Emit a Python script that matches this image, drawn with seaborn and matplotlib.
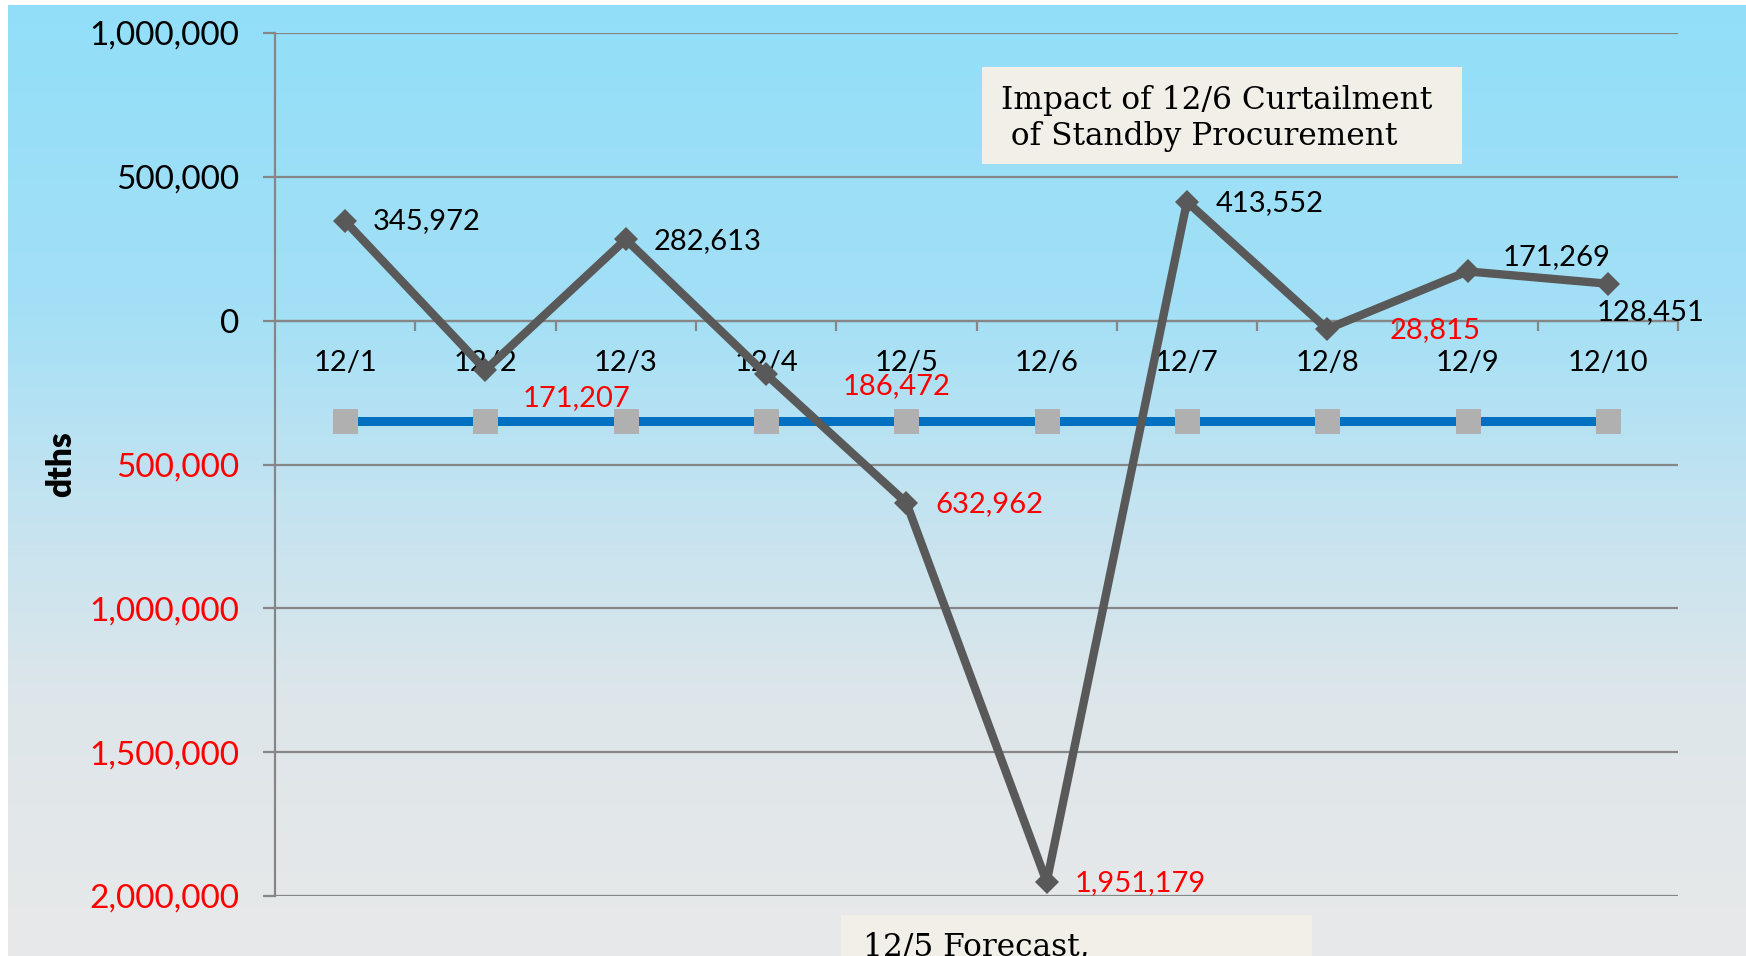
import numpy as np
import pandas as pd
import matplotlib
matplotlib.use("Agg")
import matplotlib.pyplot as plt
from matplotlib.patches import Rectangle
from matplotlib.ticker import FixedLocator
import seaborn as sns

# data
days = ['12/1', '12/2', '12/3', '12/4', '12/5', '12/6', '12/7', '12/8', '12/9', '12/10']
net_position = [345972, -171207, 282613, -186472, -632962, -1951179, 413552, -28815, 171269, 128451]
threshold = [-350000] * len(days)
y_ticks = [1000000, 500000, 0, -500000, -1000000, -1500000, -2000000]
top_note = "Impact of 12/6 Curtailment\n of Standby Procurement"
bottom_note = "12/5 Forecast,"

df = pd.DataFrame({'pos': np.arange(len(days)), 'day': days,
                   'net': net_position, 'threshold': threshold})

W, H = 1746, 956
sns.set_style("white")
plt.rcParams['font.family'] = ['Lato', 'DejaVu Sans']
plt.rcParams['text.color'] = 'black'
plt.rcParams['axes.labelcolor'] = 'black'
plt.rcParams['xtick.labelcolor'] = 'black'
plt.rcParams['ytick.labelcolor'] = 'black'

fig = plt.figure(figsize=(W / 100, H / 100), dpi=100)
fig.patch.set_facecolor('white')

# gradient background (light blue -> light grey)
stops_y = [0, 300, 480, 700, 951]
stops_c = np.array([[146, 222, 249], [163, 224, 246], [193, 227, 241],
                    [222, 230, 234], [232, 233, 233]]) / 255
rows = np.arange(951)
grad = np.stack([np.interp(rows, stops_y, stops_c[:, k]) for k in range(3)], axis=1)[:, None, :]
bg = fig.add_axes([8 / W, 0, 1 - 8 / W, 1 - 5 / H], zorder=-5)
bg.imshow(grad, aspect='auto', extent=[0, 1, 0, 1])
bg.axis('off')

ax = fig.add_axes([275 / W, 1 - 896 / H, 1403 / W, 863 / H])
ax.patch.set_alpha(0)

grid_c = '#868686'
sns.lineplot(data=df, x='pos', y='threshold', ax=ax, color='#0070C0', linewidth=6.5,
             marker='s', markersize=18, markerfacecolor='#B0B0B0', markeredgewidth=0, zorder=3)
sns.lineplot(data=df, x='pos', y='net', ax=ax, color='#595959', linewidth=6,
             marker='D', markersize=12.5, markeredgewidth=0, zorder=4)

ax.set_xlim(-0.5, len(days) - 0.5)
ax.set_ylim(-2000000, 1000000)
ax.set_xlabel('')
ax.set_ylabel('dths', fontsize=24, fontweight='heavy', color='black')
ax.yaxis.set_label_coords(-0.141, 0.5)

ax.set_yticks(y_ticks, [f'{abs(v):,}' for v in y_ticks])
for lab, v in zip(ax.get_yticklabels(), y_ticks):
    lab.set_color('red' if v < 0 else 'black')
ax.set_xticks(df['pos'], days)
ax.xaxis.set_minor_locator(FixedLocator(np.arange(0.5, len(days), 1.0)))

ax.grid(axis='y', color=grid_c, linewidth=1.6)
ax.grid(axis='x', visible=False)
ax.set_axisbelow(True)
for s in ['top', 'right']:
    ax.spines[s].set_visible(False)
ax.spines['bottom'].set_position(('data', 0))
for s in ['left', 'bottom']:
    ax.spines[s].set_color(grid_c)
    ax.spines[s].set_linewidth(1.6)

ax.tick_params(axis='y', length=8.6, width=1.6, color=grid_c, pad=17, labelsize=24, left=True)
ax.tick_params(axis='x', which='major', length=0, pad=21, labelsize=21, labelcolor='black')
ax.tick_params(axis='x', which='minor', length=7, width=1.6, color=grid_c, bottom=True)

# data labels, placed where the original chart put them
offsets = [(20, 0), (27, -20), (20, -1), (55, -8.5), (21, -1),
           (20, -1), (21, -1), (45, -1), (25, 10.5), (-8, -20.7)]
for x, v, off in zip(df['pos'], net_position, offsets):
    ax.annotate(f'{abs(v):,}', (x, v), xytext=off, textcoords='offset points',
                ha='left', va='center', fontsize=21,
                color='red' if v < 0 else 'black', zorder=6)

# note boxes
fig.add_artist(Rectangle((982 / W, 1 - 164 / H), 480 / W, 97 / H,
                         transform=fig.transFigure, facecolor='#F2EEE8', edgecolor='none', zorder=5))
fig.text(1001 / W, 1 - 118.5 / H, top_note, family='DejaVu Serif', fontsize=22.5,
         ha='left', va='center', linespacing=1.25, color='black', zorder=6)
fig.add_artist(Rectangle((841 / W, 0), 471 / W, 41 / H,
                         transform=fig.transFigure, facecolor='#F2EEE8', edgecolor='none', zorder=5))
fig.text(863 / W, 1 / H, bottom_note, family='DejaVu Serif', fontsize=22.5,
         ha='left', va='baseline', color='black', zorder=6)

fig.savefig('out.png', dpi=100)
